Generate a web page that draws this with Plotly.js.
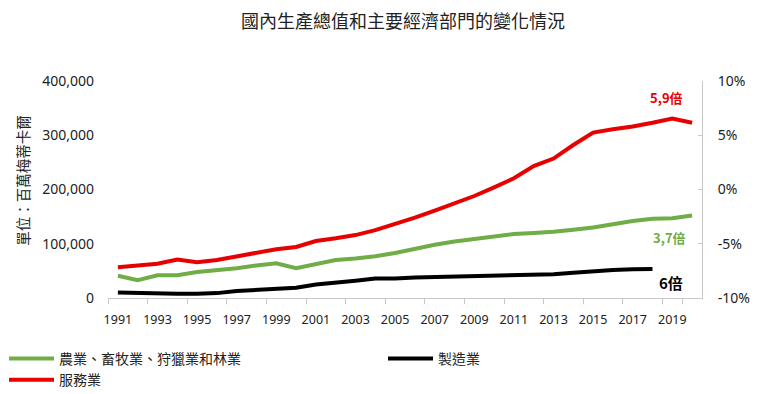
<!DOCTYPE html>
<html><head><meta charset="utf-8">
<script src="https://cdn.plot.ly/plotly-3.0.1.min.js"></script>
<style>body{margin:0;background:#fff}#c{width:762px;height:394px}</style>
</head><body><div id="c"></div>
<script>
const years = ['1991','1992','1993','1994','1995','1996','1997','1998','1999','2000','2001','2002','2003','2004','2005','2006','2007','2008','2009','2010','2011','2012','2013','2014','2015','2016','2017','2018','2019','2020'];
const agriculture = [41000,33000,42000,42000,48000,51000,55000,60000,64000,55000,63000,70000,73000,77000,83000,91000,98000,104000,109000,114000,118000,120000,122000,126000,130000,136000,142000,146000,147000,152000];
const manufacturing = [10000,9000,8500,8000,8000,9000,13000,14700,16600,19000,25000,27600,32000,36000,36000,38000,38700,40000,40500,41000,42000,42000,43600,46700,50000,51600,53000,53500,null,null];
const services = [56600,59600,63000,71000,66000,70000,77000,83000,90000,94000,105000,110000,116000,125000,136000,148000,161000,174500,188000,204000,220600,243000,257000,282000,305000,311000,316000,323000,331000,323000];
const names = ['農業、畜牧業、狩獵業和林業','製造業','服務業'];
const annText = ['5,9倍','3,7倍','6倍'];
const leftTicks = [0,100000,200000,300000,400000];
const leftTickText = ['0','100,000','200,000','300,000','400,000'];
const rightTicks = [-10,-5,0,5,10];
const rightTickText = ['-10%','-5%','0%','5%','10%'];

const font = "'Noto Sans CJK TC','Noto Sans',sans-serif";
const numFont = "'Noto Sans','Open Sans',sans-serif";
const traces = [
  {x:years,y:agriculture,name:names[0],type:'scatter',mode:'lines',line:{color:'#70ad47',width:4},legend:'legend'},
  {x:years,y:manufacturing,name:names[1],type:'scatter',mode:'lines',line:{color:'#000000',width:4},legend:'legend2'},
  {x:years,y:services,name:names[2],type:'scatter',mode:'lines',line:{color:'#e80000',width:4},legend:'legend'},
  {x:years,y:years.map(()=>null),yaxis:'y2',showlegend:false,hoverinfo:'skip',type:'scatter',mode:'lines'}
];
const legendCommon = {orientation:'v',xanchor:'left',yanchor:'top',font:{family:font,size:14,color:'#222'},
  tracegroupgap:0,itemwidth:45,bgcolor:'rgba(0,0,0,0)'};
const layout = {
  width:762,height:394,
  margin:{l:108,r:60,t:81,b:96,autoexpand:false},
  paper_bgcolor:'#fff',plot_bgcolor:'#fff',
  font:{family:font,size:12,color:'#222'},
  title:{text:'國內生產總值和主要經濟部門的變化情況',x:403/762,xanchor:'center',y:1-22/394,yanchor:'middle',font:{family:font,size:18,color:'#222'}},
  xaxis:{type:'category',range:[-0.5,29.5],tickmode:'array',tickvals:years.filter((y,i)=>i%2===0),ticktext:years.filter((y,i)=>i%2===0),
    tickangle:0,showline:true,linecolor:'#c8c8c8',linewidth:1,showgrid:false,ticks:'outside',ticklen:5,tickcolor:'#c8c8c8',tickson:'boundaries',
    ticklabelstandoff:10,tickfont:{family:numFont,size:12.5,color:'#222'},zeroline:false},
  yaxis:{range:[0,400000],tickmode:'array',tickvals:leftTicks,ticktext:leftTickText,
    showgrid:false,zeroline:false,showline:false,ticks:'',ticklabelstandoff:13,tickfont:{family:numFont,size:14,color:'#222'}},
  yaxis2:{overlaying:'y',side:'right',range:[-10,10],tickmode:'array',tickvals:rightTicks,ticktext:rightTickText,
    showgrid:false,zeroline:false,showline:true,linecolor:'#c8c8c8',ticks:'inside',ticklen:4,tickcolor:'#c8c8c8',ticklabelstandoff:12,
    tickfont:{family:numFont,size:14,color:'#222'}},
  showlegend:true,
  legend:Object.assign({},legendCommon,{x:(4-108)/594,y:(298-343)/217}),
  legend2:Object.assign({},legendCommon,{x:(383-108)/594,y:(298-343)/217}),
  annotations:[
    {x:-0.145,y:(298-180)/217,xref:'paper',yref:'paper',text:'單位：百萬梅蒂卡爾',textangle:-90,showarrow:false,font:{family:font,size:14.5,color:'#222'},xanchor:'center',yanchor:'middle'},
    {x:27.7,y:370000,xref:'x',yref:'y',text:'<b>'+annText[0]+'</b>',showarrow:false,font:{family:font,color:'#e80000',size:13},xanchor:'center',yanchor:'middle'},
    {x:27.85,y:112000,xref:'x',yref:'y',text:'<b>'+annText[1]+'</b>',showarrow:false,font:{family:font,color:'#70ad47',size:13},xanchor:'center',yanchor:'middle'},
    {x:27.95,y:29500,xref:'x',yref:'y',text:'<b>'+annText[2]+'</b>',showarrow:false,font:{family:font,color:'#000',size:15},xanchor:'center',yanchor:'middle'}
  ]
};
Plotly.newPlot('c',traces,layout,{displayModeBar:false,staticPlot:true});
</script></body></html>
